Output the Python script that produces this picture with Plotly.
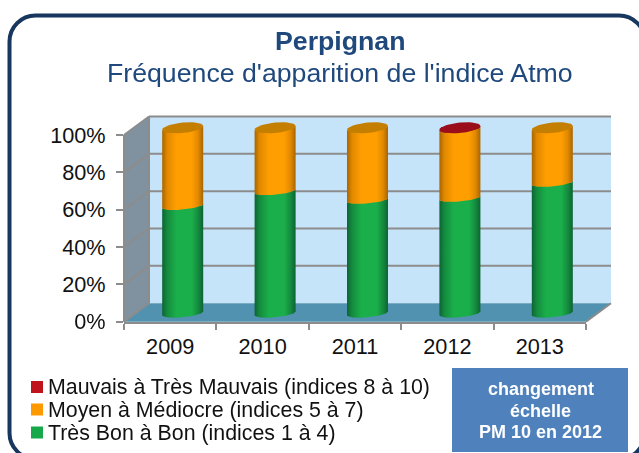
import math
import plotly.graph_objects as go

years = [2009, 2010, 2011, 2012, 2013]
tres_bon = [57.8, 65.8, 61.1, 62.2, 70.3]
moyen = [42.2, 34.2, 38.9, 37.3, 29.7]
mauvais = [0, 0, 0, 0.5, 0]
y_ticks = [0, 20, 40, 60, 80, 100]
series_names = ["Mauvais à Très Mauvais (indices 8 à 10)", "Moyen à Médiocre (indices 5 à 7)", "Très Bon à Bon (indices 1 à 4)"]
note_lines = ["changement", "échelle", "PM 10 en 2012"]

W, H = 639, 453
FL, FR, FB, FT = 124, 586, 321.7, 135      # front plane of the plot box
DX, DY = 25, 18.5                          # depth of the plot box
BAR_W = 0.444
BX0, BX1, BY0, BY100 = FL + DX / 2, FR + DX / 2, 313.3, 127.8
PPU = (BY0 - BY100) / 100
YMIN, YMAX = -8, 108

def px(x): return x / W
def py(y): return 1 - y / H
def poly(pts, **kw):
    path = "M" + "L".join(f"{px(x):.5f},{py(y):.5f}" for x, y in pts) + "Z"
    return dict(type="path", xref="paper", yref="paper", path=path, layer="below", **kw)
def seg(x0, y0, x1, y1, color="#8C8C8C", width=2):
    return dict(type="line", xref="paper", yref="paper", x0=px(x0), y0=py(y0), x1=px(x1), y1=py(y1),
                layer="below", line=dict(color=color, width=width))

shapes = []
# frame
fx0, fy0, fx1, fy1, r = 9.5, 15.5, 645, 459, 26
c = r * 0.45
P = lambda x, y: f"{px(x):.5f},{py(y):.5f}"
frame = (f"M{P(fx0, fy0 + r)}C{P(fx0, fy0 + c)} {P(fx0 + c, fy0)} {P(fx0 + r, fy0)}L{P(fx1 - r, fy0)}"
         f"C{P(fx1 - c, fy0)} {P(fx1, fy0 + c)} {P(fx1, fy0 + r)}L{P(fx1, fy1 - r)}"
         f"C{P(fx1, fy1 - c)} {P(fx1 - c, fy1)} {P(fx1 - r, fy1)}L{P(fx0 + r, fy1)}"
         f"C{P(fx0 + c, fy1)} {P(fx0, fy1 - c)} {P(fx0, fy1 - r)}Z")
shapes.append(dict(type="path", xref="paper", yref="paper", path=frame, layer="below",
                   line=dict(color="#17375E", width=4), fillcolor="white"))
# walls
shapes.append(poly([(FL + DX, FT - DY), (FR + DX, FT - DY), (FR + DX, FB - DY), (FL + DX, FB - DY)],
                   fillcolor="#C6E4F9", line_width=0))
shapes.append(poly([(FL, FT), (FL + DX, FT - DY), (FL + DX, FB - DY), (FL, FB)], fillcolor="#80929F", line_width=0))
shapes.append(poly([(FL, FB), (FL + DX, FB - DY), (FR + DX, FB - DY), (FR, FB)], fillcolor="#5092AF", line_width=0))
for t in y_ticks:
    yy = FB - (FB - FT) * t / 100
    if t > 0:
        shapes.append(seg(FL + DX, yy - DY, FR + DX, yy - DY))
    shapes.append(seg(FL, yy, FL + DX, yy - DY))
shapes.append(seg(FL + DX, FT - DY, FL + DX, FB - DY))
shapes.append(seg(FL, FT, FL, FB))
shapes.append(seg(FR, FB, FR + DX, FB - DY))

fig = go.Figure()
# invisible carrier of the front-plane axes
fig.add_trace(go.Scatter(x=[str(y) for y in years], y=y_ticks[:5], mode="markers", opacity=0,
                         showlegend=False, hoverinfo="skip", xaxis="x", yaxis="y"))

C = {"green": ("#1BAF4B", "#0C6433", "#148A3E", None),
     "orange": ("#FF9E00", "#A86500", "#E08800", "#C47E00"),
     "red": ("#C0141C", "#7A0A10", "#A01018", "#9A0E1C")}
def scale(c):
    bright, dark, mid, _ = c
    return [[0, dark], [0.12, mid], [0.35, bright], [0.72, bright], [0.88, mid], [1, dark]]

for vals, name, key in [(tres_bon, series_names[2], "green"), (moyen, series_names[1], "orange"), (mauvais, series_names[0], "red")]:
    fig.add_trace(go.Bar(x=years, y=vals, name=name, width=BAR_W - 0.03, marker_color=C[key][0],
                         marker_line_width=0, showlegend=False, xaxis="x2", yaxis="y2"))

A = BAR_W / 2
B_CAP = 5.2 / PPU
B_MID = 3.5 / PPU
B_BOT = 4.0 / PPU
K = 1.9 / PPU
N = 40
def edge(cx, v, b, t0, t1):
    return [(cx + A * math.cos(t0 + (t1 - t0) * i / N),
             v + b * math.sin(t0 + (t1 - t0) * i / N) + K * math.cos(t0 + (t1 - t0) * i / N)) for i in range(N + 1)]

for i, yr in enumerate(years):
    base = 0
    stack = [(tres_bon[i], "green"), (moyen[i], "orange"), (mauvais[i], "red")]
    last = None
    for v, key in stack:
        if v <= 0:
            continue
        top = base + v
        low = edge(yr, base, B_BOT if base == 0 else B_MID, math.pi, 2 * math.pi)   # front curve, left to right
        up = edge(yr, top, B_MID, 0, -math.pi)                                      # front curve, right to left
        pts = low + up
        fig.add_trace(go.Scatter(x=[p[0] for p in pts], y=[p[1] for p in pts], mode="lines", line_width=0,
                                 fill="toself", fillgradient=dict(type="horizontal", colorscale=scale(C[key])),
                                 showlegend=False, hoverinfo="skip", xaxis="x2", yaxis="y2"))
        base = top
        last = key
    cap = edge(yr, base, B_CAP, 0, 2 * math.pi)
    fig.add_trace(go.Scatter(x=[p[0] for p in cap], y=[p[1] for p in cap], mode="lines", line_width=0,
                             fill="toself", fillcolor=C[last][3], showlegend=False, hoverinfo="skip",
                             xaxis="x2", yaxis="y2"))

ann = []
TITLE = "#1F497D"
ann.append(dict(text="<b>Perpignan</b>", x=px(340), y=py(41), font=dict(size=26.7, color=TITLE)))
ann.append(dict(text="Fréquence d'apparition de l'indice Atmo", x=px(340), y=py(73), font=dict(size=26.7, color=TITLE)))
rows = [387, 409.5, 432.5]
for nm, yy, col in zip(series_names, rows, ["#C0141C", "#FF9900", "#17A84A"]):
    ann.append(dict(text=nm, x=px(45.5), y=py(yy), xanchor="left", font=dict(size=21.35, color="#111111")))
    shapes.append(poly([(31, yy - 6), (43, yy - 6), (43, yy + 6), (31, yy + 6)], fillcolor=col, line_width=0))
shapes.append(poly([(452, 368), (628, 368), (628, 452), (452, 452)], fillcolor="#4F81BD", line_width=0))
for nm, yy in zip(note_lines, [389, 411, 432]):
    ann.append(dict(text=f"<b>{nm}</b>", x=px(540.5), y=py(yy), font=dict(size=18, color="white")))
for a in ann:
    a.update(xref="paper", yref="paper", showarrow=False)
    a.setdefault("xanchor", "center")
    a.setdefault("yanchor", "middle")

def ydom(ymin, ymax):
    return [py(BY0 - PPU * ymin), py(BY0 - PPU * ymax)]

FONT = dict(family="Liberation Sans, Arial, sans-serif", size=21.7, color="#111111")
fig.update_layout(
    width=W, height=H, margin=dict(l=0, r=0, t=0, b=0, pad=0, autoexpand=False),
    paper_bgcolor="white", plot_bgcolor="rgba(0,0,0,0)", font=FONT, showlegend=False,
    barmode="stack", shapes=shapes, annotations=ann,
    xaxis=dict(domain=[px(FL), px(FR)], type="category", categoryorder="array", range=[-0.5, 4.5],
               categoryarray=[str(y) for y in years], tickson="boundaries", ticks="outside",
               ticklen=6, tickwidth=2, tickcolor="#8C8C8C", showline=True, linecolor="#8C8C8C", linewidth=2,
               showgrid=False, zeroline=False, fixedrange=True, anchor="y", ticklabelstandoff=4),
    yaxis=dict(domain=[py(FB), py(FT)], range=[0, 100], tickvals=y_ticks, ticktext=[f"{t}%" for t in y_ticks],
               ticks="outside", ticklen=7, tickwidth=2, tickcolor="#8C8C8C", showline=False,
               showgrid=False, zeroline=False, fixedrange=True, anchor="x", ticklabelstandoff=6),
    xaxis2=dict(domain=[px(BX0), px(BX1)], range=[2008.5, 2013.5], visible=False, anchor="y2", fixedrange=True),
    yaxis2=dict(domain=ydom(YMIN, YMAX), range=[YMIN, YMAX], visible=False, anchor="x2", fixedrange=True),
)
fig.write_html("out.html", config=dict(displayModeBar=False),
               post_script="document.documentElement.style.margin='0';document.body.style.margin='0';document.body.style.overflow='hidden';")
